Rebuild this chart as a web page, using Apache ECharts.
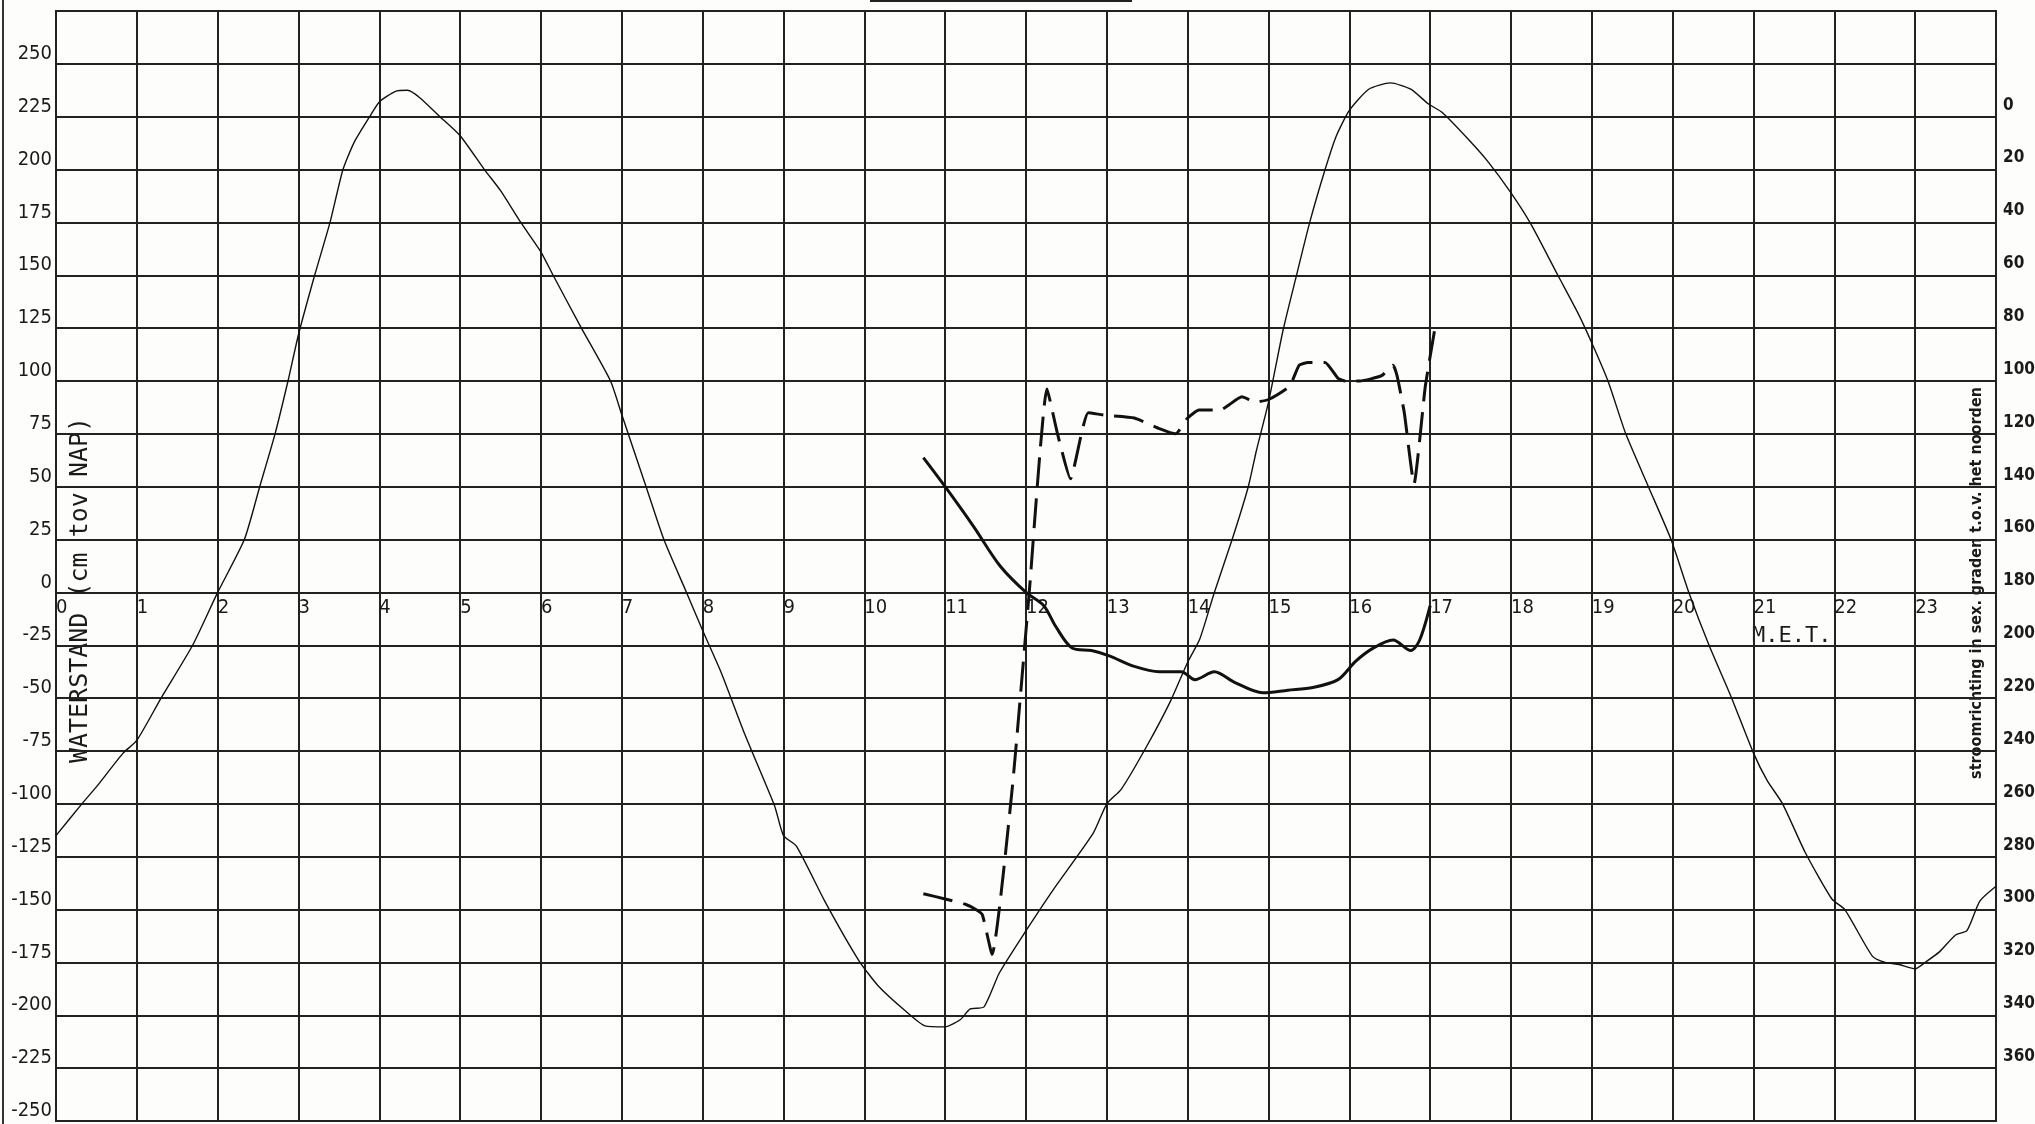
<!DOCTYPE html>
<html>
<head>
<meta charset="utf-8">
<script src="https://cdn.jsdelivr.net/npm/echarts@6/dist/echarts.min.js"></script>
<style>
html,body{margin:0;padding:0;background:#fdfdfc;}
#chart{width:2035px;height:1124px;}
</style>
</head>
<body>
<div id="chart"></div>
<script>
// ---- data (hours M.E.T.) ----
const tideHours = [0,0.32,0.52,0.83,1.0,1.3,1.69,2.0,2.33,2.52,2.71,2.87,3.0,3.2,3.39,3.55,3.69,3.88,4.0,4.2,4.35,4.5,4.75,5.0,5.3,5.5,5.75,6.0,6.15,6.5,6.86,7.0,7.3,7.52,7.8,8.0,8.23,8.52,8.89,9.0,9.16,9.51,9.93,10.17,10.51,10.75,11.0,11.19,11.31,11.48,11.67,12.0,12.33,12.83,13.0,13.18,13.49,13.78,14.0,14.15,14.33,14.55,14.75,14.85,15.0,15.18,15.34,15.51,15.7,15.84,16.0,16.24,16.51,16.76,16.98,17.15,17.48,17.71,18.0,18.25,18.58,18.83,19.0,19.2,19.42,19.7,19.98,20.2,20.45,20.73,21.0,21.17,21.36,21.64,21.97,22.13,22.47,22.63,22.8,23.0,23.14,23.3,23.5,23.64,23.8,24.0];
const tideLevel = [-115,-100,-91,-76,-70,-50,-25,0,25,50,75,100,122,150,175,200,213,225,232,237,237.5,234,225,216,200,190,175,161,150,125,100,84,50,25,0,-18,-38,-67,-101,-115,-120,-146,-174,-186,-198,-205,-205.5,-202,-197,-196,-180,-160,-141,-114,-100,-93,-73,-52,-33,-22,0,25,50,67,90,124,149,175,200,216,228,238,241,238,231,227,214,204,189,174,150,132,118,100,75,50,25,0,-25,-50,-76,-89,-100,-123,-145,-150,-172,-175,-176,-178,-174.5,-170,-162,-160,-146,-139];

// current direction (degrees w.r.t. north), solid thick line
const dirSolidHours = [10.73,11.0,11.35,11.68,12.0,12.22,12.37,12.57,12.81,13.03,13.34,13.65,13.92,14.09,14.33,14.58,14.93,15.24,15.55,15.86,16.08,16.3,16.54,16.76,16.87,17.0];
const dirSolid = [129,140,155,170,180,185,193,201,202,204,208,210,210,213,210,214,218,217,216,213,206,201,198,202,198,185];

// current direction (degrees w.r.t. north), dashed thick line
const dirDashHours = [10.73,11.0,11.25,11.38,11.46,11.58,11.83,12.04,12.26,12.39,12.55,12.77,12.99,13.34,13.65,13.85,14.0,14.14,14.4,14.67,14.84,15.0,15.26,15.38,15.49,15.7,15.86,15.95,16.13,16.4,16.54,16.59,16.68,16.8,16.94,17.07];
const dirDash = [294,296,298,300,302,317,254,180,103,120,137,112,113,114,118,120,114,111,111,106,108,107,102,94,93,93,99,100,100,98,94,98,112,139,102,78];

// axis labels
const levelTicks = {min:-250, max:275, step:25};
const dirTicks = {min:-40, max:380, step:20, first:0, last:360};
const hourTicks = {min:0, max:24, step:1};

const leftTitle = 'WATERSTAND (cm tov NAP)';
const rightTitle = 'stroomrichting in sex. graden t.o.v. het noorden';
const timeTitle = 'M.E.T.';

const pairs = (xs, ys) => xs.map((x, i) => [x, ys[i]]);

const gridColor = '#222';
const ink = '#111';
const narrow = '"Liberation Sans Narrow","DejaVu Sans Condensed","DejaVu Sans",sans-serif';
const cond = '"DejaVu Sans Condensed","DejaVu Sans",sans-serif';

const chart = echarts.init(document.getElementById('chart'), null, {renderer:'canvas'});
chart.setOption({
  backgroundColor: '#fdfdfc',
  animation: false,
  grid: {left:56, top:11, right:39, bottom:3, show:true, containLabel:false, outerBoundsMode:'none',
    borderColor:gridColor, borderWidth:2, backgroundColor:'transparent'},
  xAxis: {
    type:'value', min:hourTicks.min, max:hourTicks.max, interval:hourTicks.step,
    axisLine:{show:true, onZero:false, lineStyle:{color:gridColor, width:2}},
    axisTick:{show:false},
    splitLine:{show:true, lineStyle:{color:gridColor, width:2}},
    axisLabel:{formatter:v => v === hourTicks.max ? '' : String(v), align:'left', margin:5,
      fontSize:20, fontFamily:narrow, color:'#1a1a1a', showMaxLabel:false}
  },
  yAxis: [
    {
      type:'value', position:'left', min:levelTicks.min, max:levelTicks.max, interval:levelTicks.step,
      axisLine:{show:false, onZero:false}, axisTick:{show:false},
      splitLine:{show:true, lineStyle:{color:gridColor, width:2}},
      axisLabel:{formatter:v => v === levelTicks.max ? '' : String(v), margin:4, verticalAlign:'bottom',
        fontSize:20, fontFamily:narrow, color:'#1a1a1a'}
    },
    {
      type:'value', position:'right', inverse:true, min:dirTicks.min, max:dirTicks.max, interval:dirTicks.step,
      axisLine:{show:false, onZero:false}, axisTick:{show:false}, splitLine:{show:false},
      axisLabel:{formatter:v => (v >= dirTicks.first && v <= dirTicks.last) ? String(v) : '',
        margin:7, align:'left', verticalAlign:'bottom', padding:[0,0,3,0],
        fontSize:17, fontWeight:'bold', fontFamily:cond, color:'#1a1a1a'}
    }
  ],
  series: [
    {name:'waterstand', type:'line', xAxisIndex:0, yAxisIndex:0, data:pairs(tideHours, tideLevel),
      showSymbol:false, smooth:0.2, lineStyle:{color:ink, width:1.4}},
    {name:'stroomrichting 1', type:'line', xAxisIndex:0, yAxisIndex:1, data:pairs(dirSolidHours, dirSolid),
      showSymbol:false, smooth:0.3, lineStyle:{color:ink, width:3}},
    {name:'stroomrichting 2', type:'line', xAxisIndex:0, yAxisIndex:1, data:pairs(dirDashHours, dirDash),
      showSymbol:false, smooth:0.15, lineStyle:{color:ink, width:3, type:[30,11]}}
  ],
  graphic: [
    {type:'line', shape:{x1:3, y1:0, x2:3, y2:1124}, style:{stroke:'#333', lineWidth:2}},
    {type:'rect', shape:{x:870, y:0, width:262, height:2}, style:{fill:'#222'}},
    {type:'text', x:80, y:590, rotation:Math.PI/2,
      style:{text:leftTitle, x:0, y:0, align:'center', verticalAlign:'middle',
        font:'25px "DejaVu Sans Mono", monospace', fill:'#1a1a1a'}},
    {type:'text', x:1977, y:583, rotation:Math.PI/2,
      style:{text:rightTitle, x:0, y:0, align:'center', verticalAlign:'middle',
        font:'bold 16px "DejaVu Sans Condensed","DejaVu Sans",sans-serif', fill:'#1a1a1a'}},
    {type:'text', x:1752, y:636,
      style:{text:timeTitle, x:0, y:0, align:'left', verticalAlign:'middle',
        font:'22px "DejaVu Sans Mono", monospace', fill:'#1a1a1a'}}
  ]
});
// move the time axis (line + labels) up to the zero level of the water-level axis
let offset = 0;
for (let i = 0; i < 3; i++) {
  const zeroY = chart.convertToPixel({yAxisIndex:0}, 0);
  const bottomY = chart.convertToPixel({yAxisIndex:0}, levelTicks.min);
  const target = zeroY - bottomY;
  if (Math.abs(target - offset) < 0.5) break;
  offset = target;
  chart.setOption({xAxis:{offset: offset}});
}
</script>
</body>
</html>
